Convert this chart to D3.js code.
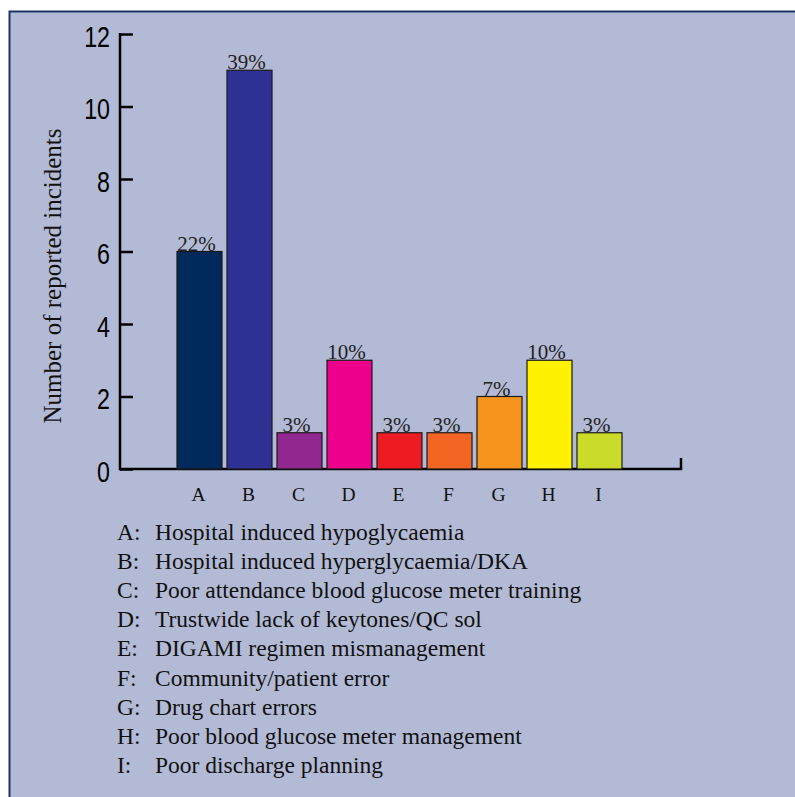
<!DOCTYPE html>
<html>
<head>
<meta charset="utf-8">
<script src="https://cdn.jsdelivr.net/npm/d3@7"></script>
<style>
  body { margin: 0; background: #fff; }
  svg { display: block; }
</style>
</head>
<body>
<div id="chart"></div>
<script>
// data
const categories = ["A", "B", "C", "D", "E", "F", "G", "H", "I"];
const counts = [6, 11, 1, 3, 1, 1, 2, 3, 1];
const percents = ["22%", "39%", "3%", "10%", "3%", "3%", "7%", "10%", "3%"];
const barColors = ["#002a5c", "#2e3192", "#92278f", "#ec008c", "#ed1c24",
                   "#f26522", "#f7941d", "#fff200", "#cbdb2a"];
const yTicks = [0, 2, 4, 6, 8, 10, 12];
const legendLabels = [
    "Hospital induced hypoglycaemia",
    "Hospital induced hyperglycaemia/DKA",
    "Poor attendance blood glucose meter training",
    "Trustwide lack of keytones/QC sol",
    "DIGAMI regimen mismanagement",
    "Community/patient error",
    "Drug chart errors",
    "Poor blood glucose meter management",
    "Poor discharge planning"
];

const width = 795, height = 797;
const serif = "'Liberation Serif', 'Times New Roman', serif";
const sans = "'Liberation Sans', Arial, sans-serif";

const svg = d3.select("#chart").append("svg")
    .attr("width", width)
    .attr("height", height);

// background panel, border on top and left only
svg.append("rect")
    .attr("x", 9).attr("y", 12)
    .attr("width", width - 9).attr("height", height - 12)
    .attr("fill", "#b3bad5");
svg.append("path")
    .attr("d", `M9.5,${height} V11.5 H${width}`)
    .attr("fill", "none")
    .attr("stroke", "#1d3566")
    .attr("stroke-width", 2);

const axisX = 120, xEnd = 681;
const yscale = d3.scaleLinear().domain([0, 12]).range([469, 34]);
const xscale = d3.scaleBand()
    .domain(categories)
    .range([174.5, 624.5])
    .paddingInner(0.1)
    .paddingOuter(0.05);

const g = svg.append("g");

// y axis, ticks pointing inward
const yAxis = g.append("g")
    .attr("transform", `translate(${axisX},0)`)
    .call(d3.axisLeft(yscale).tickValues(yTicks).tickSize(-13));
yAxis.select(".domain").remove();
yAxis.selectAll(".tick line").attr("stroke", "#000").attr("stroke-width", 2.5);
// condensed digits: squeeze a regular sans horizontally
yAxis.selectAll(".tick text")
    .attr("x", 0)
    .attr("dy", "0.42em")
    .attr("transform", "translate(-10,0) scale(0.8,1)")
    .attr("fill", "#000")
    .style("font-family", sans)
    .style("font-size", "29px");

// axis lines
g.append("path")
    .attr("d", `M${axisX},${yscale(12) - 1} V${yscale(0)} H${xEnd} V${yscale(0) - 11}`)
    .attr("fill", "none")
    .attr("stroke", "#000")
    .attr("stroke-width", 2.5);

// bars
const chart = g.selectAll(".barg")
    .data(categories)
    .enter()
    .append("g")
    .attr("class", "barg");

chart.append("rect")
    .attr("class", "bar")
    .attr("x", d => xscale(d))
    .attr("width", xscale.bandwidth())
    .attr("y", (d, i) => yscale(counts[i]))
    .attr("height", (d, i) => yscale(0) - yscale(counts[i]))
    .attr("fill", (d, i) => barColors[i])
    .attr("stroke", "#1a1a1a")
    .attr("stroke-width", 1.2);

chart.append("text")
    .attr("class", "nodeVal")
    .attr("x", d => xscale(d) + xscale.bandwidth() / 2 - 3)
    .attr("y", (d, i) => yscale(counts[i]) - 1)
    .attr("text-anchor", "middle")
    .attr("fill", "#222")
    .style("font-family", serif)
    .style("font-size", "21px")
    .text((d, i) => percents[i]);

// category letters
const xAxis = g.append("g")
    .attr("transform", `translate(0,${yscale(0)})`)
    .call(d3.axisBottom(xscale).tickSize(0).tickPadding(0));
xAxis.select(".domain").remove();
xAxis.selectAll(".tick text")
    .attr("y", 32)
    .attr("dy", 0)
    .attr("dx", -1)
    .attr("fill", "#111")
    .style("font-family", serif)
    .style("font-size", "19.5px");

// y title
svg.append("text")
    .attr("transform", "translate(61,276) rotate(-90)")
    .attr("text-anchor", "middle")
    .attr("fill", "#111")
    .style("font-family", serif)
    .style("font-size", "25px")
    .text("Number of reported incidents");

// legend
const legend = svg.append("g")
    .selectAll("g")
    .data(categories)
    .enter()
    .append("g")
    .attr("transform", (d, i) => `translate(117,${540 + i * 29.1})`);
legend.append("text")
    .attr("fill", "#111")
    .style("font-family", serif)
    .style("font-size", "23.5px")
    .text(d => d + ":");
legend.append("text")
    .attr("x", 38)
    .attr("fill", "#111")
    .style("font-family", serif)
    .style("font-size", "23.5px")
    .text((d, i) => legendLabels[i]);
</script>
</body>
</html>
